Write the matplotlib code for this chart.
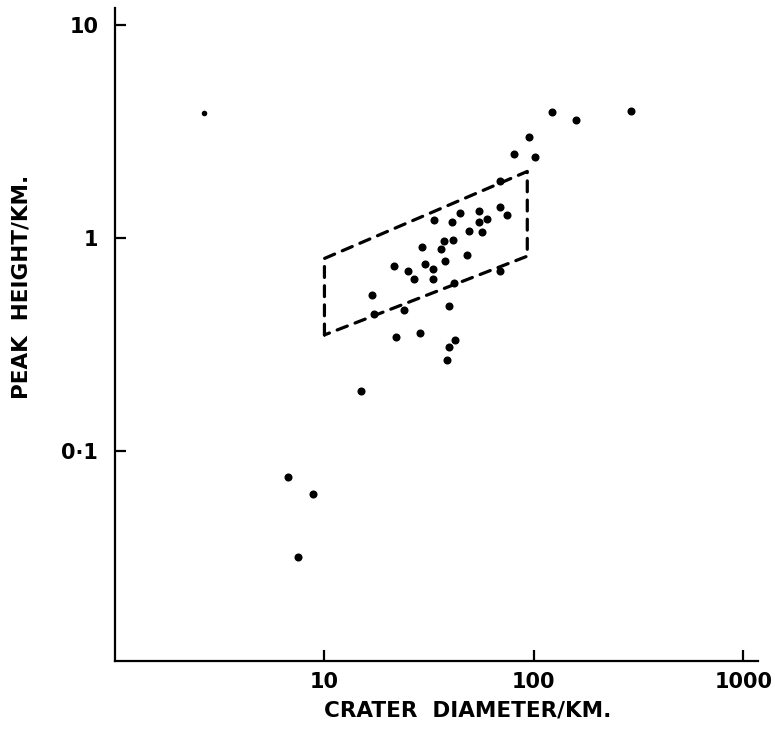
import numpy as np
import matplotlib
matplotlib.use("Agg")
import matplotlib.pyplot as plt

# crater diameter (km) / central peak height (km)
diam = [291, 122, 159, 95, 80, 101, 69, 69, 74.5, 54.6, 44.3, 33.2, 40.6, 54.6,
        60, 48.9, 56.8, 37.2, 41.3, 29.2, 36, 48, 37.5, 30.3, 21.5, 33, 25.1,
        26.7, 33, 41.4, 68.7, 16.9, 39.4, 17.3, 23.9, 22, 28.5, 41.9, 39.2, 38.6,
        15, 6.67, 8.79, 7.45]
height = [3.95, 3.91, 3.58, 2.97, 2.48, 2.39, 1.85, 1.39, 1.28, 1.33, 1.31, 1.21,
          1.19, 1.185, 1.224, 1.08, 1.06, 0.961, 0.979, 0.904, 0.885, 0.832, 0.78,
          0.757, 0.736, 0.715, 0.70, 0.64, 0.64, 0.613, 0.702, 0.54, 0.478, 0.438,
          0.456, 0.342, 0.357, 0.33, 0.306, 0.267, 0.191, 0.0752, 0.0629, 0.0317]

# odd small point at far left
odd_diam = [2.67]
odd_height = [3.85]

# dashed outline
box_x = [10, 10, 93, 93, 10]
box_y = [0.35, 0.80, 2.05, 0.82, 0.35]

xticks = [10, 100, 1000]
xlabels = ["10", "100", "1000"]
yticks = [0.1, 1, 10]
ylabels = ["0·1", "1", "10"]

plt.rcParams['font.family'] = ['DejaVu Sans']

fig = plt.figure(figsize=(7.75, 7.31), dpi=100)
ax = fig.add_axes([115/775, 70/731, 643/775, 653/731])

ax.set_xscale('log')
ax.set_yscale('log')
ax.set_xlim(1, 1175)
ax.set_ylim(0.0103, 12.0)

ax.plot(box_x, box_y, color='black', lw=2.3, ls=(0, (3.4, 2.6)), dash_capstyle='round')
ax.plot(diam, height, 'o', color='black', ms=5.8, mec='none')
ax.plot(odd_diam, odd_height, 'o', color='black', ms=4.0, mec='none')

for s in ['top', 'right']:
    ax.spines[s].set_visible(False)
for s in ['left', 'bottom']:
    ax.spines[s].set_linewidth(1.6)

ax.xaxis.set_minor_locator(matplotlib.ticker.NullLocator())
ax.yaxis.set_minor_locator(matplotlib.ticker.NullLocator())
ax.set_xticks(xticks)
ax.set_xticklabels(xlabels)
ax.set_yticks(yticks)
ax.set_yticklabels(ylabels)
ax.tick_params(direction='in', length=8, width=1.6, labelsize=15)
ax.tick_params(axis='x', pad=8)
ax.tick_params(axis='y', pad=12)
for t in ax.get_xticklabels() + ax.get_yticklabels():
    t.set_fontweight('bold')

fig.text(468/775, 1 - 710/731, "CRATER  DIAMETER/KM.", ha='center', va='center',
         fontsize=15.5, fontweight='bold')
fig.text(22/775, 1 - 287/731, "PEAK  HEIGHT/KM.", ha='center', va='center',
         rotation=90, fontsize=15.5, fontweight='bold')

fig.savefig("out.png", dpi=100)
